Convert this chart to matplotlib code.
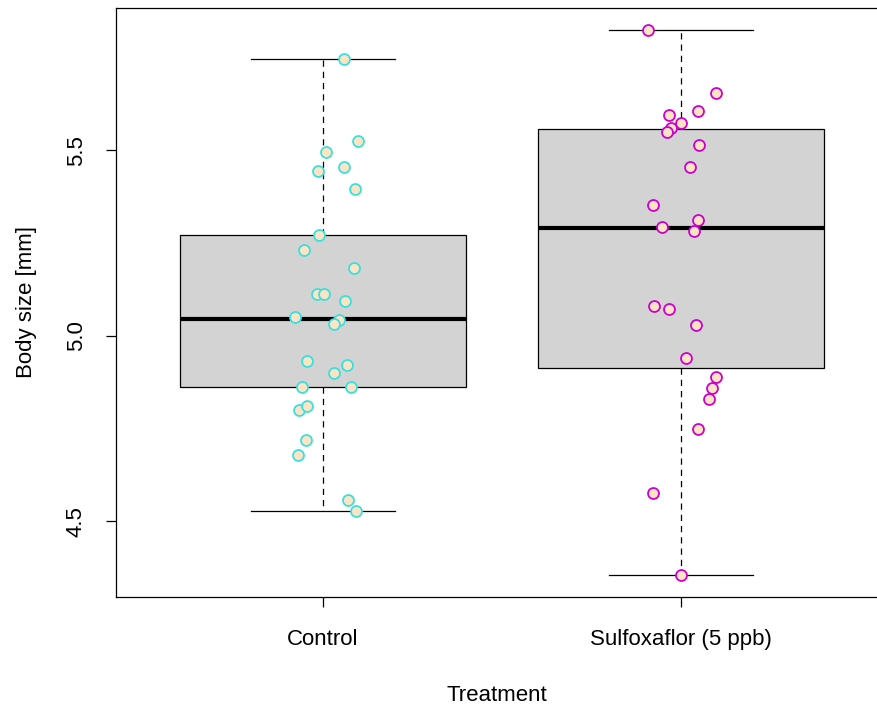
import numpy as np
import matplotlib.pyplot as plt

plt.rcParams['font.family'] = ['Liberation Sans', 'DejaVu Sans']

# Box statistics
groups = ['Control', 'Sulfoxaflor (5 ppb)']
whislo = [4.528, 4.356]
q1 = [4.863, 4.914]
med = [5.046, 5.291]
q3 = [5.272, 5.558]
whishi = [5.747, 5.825]

# jittered points (x position, body size)
ctrl_x = [1.059, 1.098, 1.008, 1.059, 0.986, 1.089, 0.989, 0.947, 1.087, 0.983,
          1.003, 1.062, 0.922, 1.045, 1.031, 0.955, 1.068, 1.031, 0.941, 1.078,
          0.933, 0.955, 0.953, 0.930, 1.070, 1.092]
ctrl_y = [5.747, 5.526, 5.496, 5.456, 5.445, 5.396, 5.272, 5.232, 5.183, 5.113,
          5.113, 5.094, 5.051, 5.043, 5.032, 4.933, 4.922, 4.900, 4.863, 4.863,
          4.801, 4.811, 4.720, 4.679, 4.558, 4.528]
sulf_x = [1.907, 2.098, 2.046, 1.966, 2.000, 1.972, 1.961, 2.049, 2.024, 1.922,
          2.048, 1.946, 2.036, 1.925, 1.967, 2.042, 2.013, 2.098, 2.087, 2.077,
          2.047, 1.922, 2.001]
sulf_y = [5.825, 5.655, 5.606, 5.595, 5.575, 5.560, 5.549, 5.514, 5.455, 5.353,
          5.313, 5.293, 5.282, 5.081, 5.072, 5.030, 4.941, 4.890, 4.860, 4.829,
          4.750, 4.578, 4.356]

fig = plt.figure(figsize=(8.77, 7.07), dpi=100)
ax = fig.add_axes([116/877, 110/707, 1 - 116/877, 589/707])

stats = []
for i in range(2):
    stats.append(dict(whislo=whislo[i], q1=q1[i], med=med[i], q3=q3[i],
                      whishi=whishi[i], fliers=[], label=groups[i]))

ax.bxp(stats, positions=[1, 2], widths=0.8, capwidths=0.4,
       patch_artist=True, showfliers=False,
       boxprops=dict(facecolor='#D3D3D3', edgecolor='black', linewidth=0.9),
       medianprops=dict(color='black', linewidth=3),
       whiskerprops=dict(color='black', linewidth=0.9, linestyle=(0, (5, 4))),
       capprops=dict(color='black', linewidth=0.9))

ax.scatter(ctrl_x, ctrl_y, s=62, facecolor='#FFE4C4', edgecolor='#38E0E0',
           linewidth=1.3, zorder=5)
ax.scatter(sulf_x, sulf_y, s=62, facecolor='#FFE4C4', edgecolor='#CD00CD',
           linewidth=1.3, zorder=5)

ax.set_xlim(0.422, 2.547)
ax.set_ylim(4.2965, 5.884)
ax.set_yticks([4.5, 5.0, 5.5])
ax.set_yticklabels(['4.5', '5.0', '5.5'], rotation=90, va='center')
ax.set_xticks([1, 2])
ax.set_xticklabels(groups)
ax.tick_params(direction='out', length=7, width=0.9, labelsize=16)
ax.tick_params(axis='x', pad=16)
ax.tick_params(axis='y', pad=14)
for s in ax.spines.values():
    s.set_linewidth(0.9)
ax.spines['right'].set_visible(False)

ax.set_xlabel('Treatment', fontsize=16, labelpad=25)
ax.set_ylabel('Body size [mm]', fontsize=16, labelpad=21)

fig.savefig('out.png', dpi=100)
